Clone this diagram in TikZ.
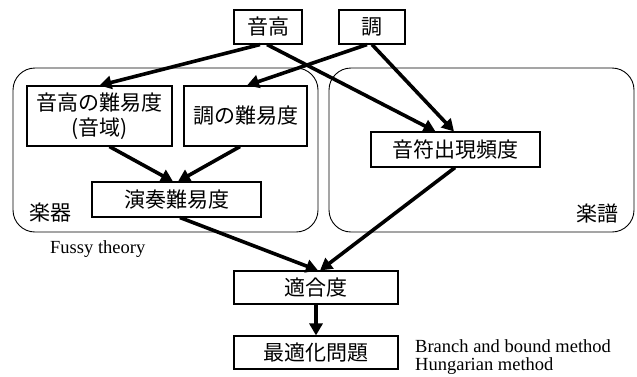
\documentclass[tikz,border=0pt]{standalone}
\usepackage{fontspec}
\setmainfont{Liberation Serif}
\newfontfamily\jp{Noto Sans CJK JP}
\usetikzlibrary{arrows.meta}
\begin{document}
\begin{tikzpicture}[x=1pt,y=-1pt,
  box/.style={draw,line width=1.1pt,inner sep=0pt,font=\jp\fontsize{21}{25}\selectfont,align=center},
  grp/.style={draw,line width=0.9pt,rounded corners=22pt},
  arr/.style={line width=3.6pt,-{Triangle[length=12pt,width=13pt]}},
  lab/.style={font=\jp\fontsize{21}{25}\selectfont,inner sep=0pt},
  en/.style={font=\fontsize{18.5}{18}\selectfont,inner sep=0pt,align=left}]
\useasboundingbox (0,0) rectangle (637,376);
\draw[grp] (13,68) rectangle (318,232);
\draw[grp] (329,68) rectangle (634,232);
\node[lab] (gl) at (50,213) {楽器};
\node[lab] (gr) at (597,213) {楽譜};
\node[box,minimum width=68pt,minimum height=34pt] (pitch) at (268,27) {音高};
\node[box,minimum width=66pt,minimum height=34pt] (key) at (372,27) {調};
\node[box,minimum width=145pt,minimum height=60pt] (pitchd) at (99.5,116) {音高の難易度\\(音域)};
\node[box,minimum width=123pt,minimum height=60pt] (keyd) at (245.5,116) {調の難易度};
\node[box,minimum width=169pt,minimum height=35pt] (notef) at (455.5,149.5) {音符出現頻度};
\node[box,minimum width=169pt,minimum height=35pt] (play) at (176.5,199.5) {演奏難易度};
\node[box,minimum width=164pt,minimum height=33pt] (fit) at (316,287.5) {適合度};
\node[box,minimum width=164pt,minimum height=33pt] (opt) at (316,352.5) {最適化問題};
\node[en,anchor=base west] (fz) at (50,253) {Fussy theory};
\node[en,anchor=base west] (bb) at (415,370) {Branch and bound method\\Hungarian method};
\draw[arr] ([xshift=-8pt]pitch.south) -- (pitchd.north);
\draw[arr] ([xshift=-5pt]key.south) -- ([xshift=1.5pt]keyd.north);
\draw[arr] ([xshift=-1pt]pitch.south) -- ([xshift=-20pt]notef.north);
\draw[arr] (key.south) -- ([xshift=-1.5pt]notef.north);
\draw[arr] ([xshift=10pt]pitchd.south) -- ([xshift=-3.5pt]play.north);
\draw[arr] ([xshift=-5.5pt]keyd.south) -- ([xshift=1.5pt]play.north);
\draw[arr] ([xshift=3.5pt]play.south) -- ([xshift=2pt]fit.north);
\draw[arr] ([xshift=-0.5pt]notef.south) -- ([xshift=4pt]fit.north);
\draw[arr] (fit.south) -- (opt.north);
\end{tikzpicture}
\end{document}
